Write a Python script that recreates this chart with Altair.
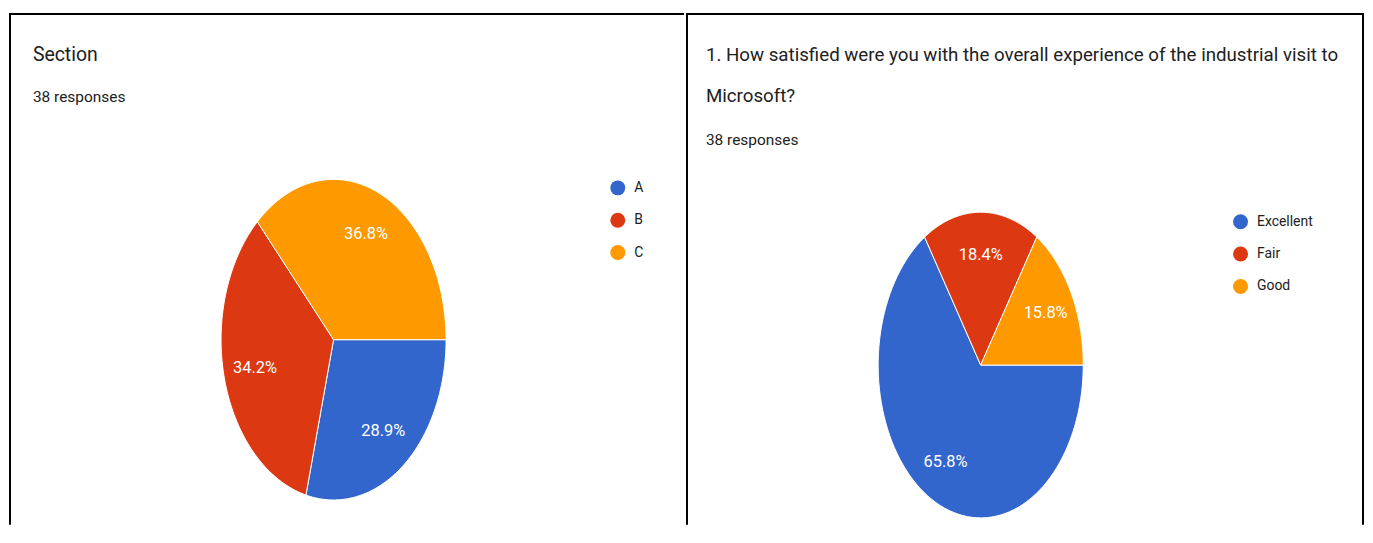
import altair as alt
import pandas as pd

# ---------------- data ----------------
section_categories = ["A", "B", "C"]
section_counts = [11, 13, 14]

satisfaction_categories = ["Excellent", "Fair", "Good"]
satisfaction_counts = [25, 7, 6]

slice_colors = ["#3366CC", "#DC3912", "#FF9900"]

left_title_lines = ["Section"]
right_title_lines = [
    "1. How satisfied were you with the overall experience of the industrial visit to",
    "Microsoft?",
]
responses_text = "38 responses"

FONT = "Roboto"
TEXT_COLOR = "#212121"
N = 90          # arc samples per slice
LABEL_R = 0.72  # label distance (fraction of radius)


def panel(cats, counts, title_lines, width, height, cx, cy, rx, ry,
          legend_x, legend_y, title_x, title_y, title_size, resp_y, left_x, right_border):
    df = pd.DataFrame({"cat": cats, "count": counts, "order": list(range(len(cats)))})
    base = (
        alt.Chart(df)
        .transform_joinaggregate(total="sum(count)")
        .transform_window(cum="sum(count)", sort=[alt.SortField("order")], frame=[None, 0])
        .transform_calculate(
            a0="PI/2 + 2*PI*(datum.cum - datum.count)/datum.total",
            a1="PI/2 + 2*PI*datum.cum/datum.total",
        )
    )
    xs = alt.Scale(domain=[-1, 1], range=[cx - rx, cx + rx], nice=False, zero=False)
    ys = alt.Scale(domain=[-1, 1], range=[cy + ry, cy - ry], nice=False, zero=False)

    wedges = (
        base.transform_calculate(steps=f"sequence(0, {N + 3})")
        .transform_flatten(["steps"], as_=["k"])
        .transform_calculate(
            r=f"(datum.k == 0 || datum.k == {N + 2}) ? 0 : 1",
            a=f"datum.a0 + (datum.a1 - datum.a0) * clamp((datum.k - 1) / {N}, 0, 1)",
        )
        .transform_calculate(px="datum.r * sin(datum.a)", py="datum.r * cos(datum.a)")
        .mark_line(stroke="white", strokeWidth=1, strokeJoin="round", interpolate="linear")
        .encode(
            x=alt.X("px:Q", scale=xs, axis=None),
            y=alt.Y("py:Q", scale=ys, axis=None),
            fill=alt.Fill(
                "cat:N",
                scale=alt.Scale(domain=cats, range=slice_colors),
                legend=alt.Legend(
                    orient="none", legendX=legend_x, legendY=legend_y, title=None,
                    symbolType="circle", symbolSize=225, symbolStrokeWidth=0,
                    labelFont=FONT, labelFontSize=14, labelColor=TEXT_COLOR,
                    rowPadding=17.5, labelOffset=9, padding=0,
                ),
            ),
            order=alt.Order("k:Q"),
        )
    )

    labels = (
        base.transform_calculate(mid="(datum.a0 + datum.a1) / 2")
        .transform_calculate(
            lx=f"{LABEL_R} * sin(datum.mid)",
            ly=f"{LABEL_R} * cos(datum.mid)",
            label="format(datum.count / datum.total, '.1%')",
        )
        .mark_text(font=FONT, fontSize=16.5, color="white", align="center", baseline="middle")
        .encode(x=alt.X("lx:Q", scale=xs, axis=None), y=alt.Y("ly:Q", scale=ys, axis=None),
                text="label:N")
    )

    one = alt.Data(values=[{}])
    title = alt.Chart(one).mark_text(
        font=FONT, fontSize=title_size, color=TEXT_COLOR, align="left", baseline="alphabetic",
        lineHeight=41,
    ).encode(x=alt.value(title_x), y=alt.value(title_y), text=alt.value(title_lines))
    resp = alt.Chart(one).mark_text(
        font=FONT, fontSize=15.5, color=TEXT_COLOR, align="left", baseline="alphabetic",
    ).encode(x=alt.value(title_x), y=alt.value(resp_y), text=alt.value(responses_text))

    rule = dict(color="black", strokeWidth=2, strokeCap="square")
    borders = [
        alt.Chart(one).mark_rule(**rule).encode(x=alt.value(left_x), x2=alt.value(width), y=alt.value(0)),
        alt.Chart(one).mark_rule(**rule).encode(x=alt.value(left_x), y=alt.value(0), y2=alt.value(height)),
    ]
    if right_border:
        borders.append(
            alt.Chart(one).mark_rule(**rule).encode(x=alt.value(width), y=alt.value(0), y2=alt.value(height))
        )
    return alt.layer(wedges, labels, title, resp, *borders).properties(width=width, height=height)


H = 512
left = panel(section_categories, section_counts, left_title_lines, 677, H,
             cx=326, cy=327, rx=113, ry=161,
             legend_x=604, legend_y=167, title_x=24, title_y=47, title_size=19.5, resp_y=88,
             left_x=1, right_border=False)
right = panel(satisfaction_categories, satisfaction_counts, right_title_lines, 679, H,
              cx=295, cy=352.5, rx=103, ry=153.5,
              legend_x=548.5, legend_y=201, title_x=19, title_y=47, title_size=18.8, resp_y=131,
              left_x=0, right_border=True)

chart = (
    alt.hconcat(left, right, spacing=0)
    .resolve_scale(fill="independent")
    .resolve_legend(fill="independent")
    .configure_view(stroke=None)
    .properties(padding={"left": 0, "top": 3, "right": 0, "bottom": 0}, background="white")
)

chart.save("out.html", embed_options={"renderer": "svg", "actions": False})
